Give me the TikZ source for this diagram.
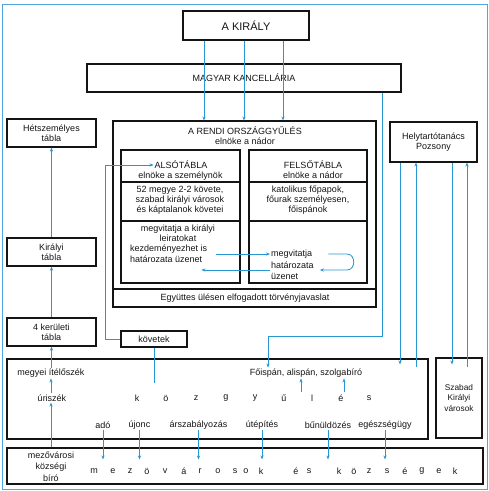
\documentclass[tikz,border=0pt]{standalone}
\usepackage{fontspec}
\setmainfont{Liberation Sans}
\usetikzlibrary{arrows.meta,calc}
\definecolor{lblue}{RGB}{40,150,210}
\definecolor{frameblue}{RGB}{80,165,220}
\definecolor{ink}{RGB}{20,20,20}
\begin{document}
\begin{tikzpicture}[x=1pt,y=-1pt,
  box/.style={draw=ink, line width=1.1pt, rectangle, inner sep=0pt, align=center, font=\fontsize{9}{10}\selectfont, text=ink},
  txt/.style={inner sep=1pt, align=center, font=\fontsize{9}{10}\selectfont, text=ink},
  arr/.style={draw=lblue, line width=0.8pt, -{Stealth[length=4pt,width=3.2pt]}},
  bline/.style={draw=lblue, line width=0.8pt},
  sep/.style={draw=ink, line width=1.1pt}]
\useasboundingbox (0,0) rectangle (489,491);
\draw[frameblue, line width=0.8pt] (2,4) rectangle (487,489);

% boxes
\node[box, minimum width=126pt, minimum height=29pt, font=\fontsize{11}{12}\selectfont] (kiraly) at (246,25.5) {A KIRÁLY};
\node[box, minimum width=314pt, minimum height=28pt] (kanc) at (244,78) {MAGYAR KANCELLÁRIA};
\node[box, minimum width=263pt, minimum height=186pt] (rendi) at (244.5,214) {};
\node[box, minimum width=119pt, minimum height=133pt] (also) at (180.5,216.5) {};
\node[box, minimum width=118pt, minimum height=133pt] (felso) at (308,216.5) {};
\node[box, minimum width=89pt, minimum height=28pt] (het) at (51.5,133) {Hétszemélyes\\tábla};
\node[box, minimum width=89pt, minimum height=28pt] (kirt) at (51.5,252) {Királyi\\tábla};
\node[box, minimum width=89pt, minimum height=28pt] (ker) at (51.5,332) {4 kerületi\\tábla};
\node[box, minimum width=66pt, minimum height=16pt] (kovetek) at (154,339) {követek};
\node[box, minimum width=87pt, minimum height=40pt] (helyt) at (433.5,142) {Helytartótanács\\Pozsony};
\node[box, minimum width=421pt, minimum height=80pt] (kozgy) at (217.5,399) {};
\node[box, minimum width=46pt, minimum height=80pt, font=\fontsize{8.3}{10.5}\selectfont] (szkv) at (459,398) {Szabad\\Királyi\\városok};
\node[box, minimum width=476pt, minimum height=36pt] (mezo) at (245,466) {};

% separators
\draw[sep] (rendi.west |- 0,289) -- (rendi.east |- 0,289);
\draw[sep] (also.west |- 0,182) -- (also.east |- 0,182);
\draw[sep] (also.west |- 0,221) -- (also.east |- 0,221);
\draw[sep] (felso.west |- 0,182) -- (felso.east |- 0,182);
\draw[sep] (felso.west |- 0,221) -- (felso.east |- 0,221);

% texts in Rendi
\node[txt] (rtitle) at (245,135.5) {A RENDI ORSZÁGGYŰLÉS\\elnöke a nádor};
\node[txt] (egyutt) at (245,298) {Együttes ülésen elfogadott törvényjavaslat};
\node[txt] (alsT) at (181,165) {ALSÓTÁBLA};
\node[txt] (alsE) at (180.5,176) {elnöke a személynök};
\node[txt] (amemb) at (180,200.5) {52 megye 2-2 követe,\\szabad királyi városok\\és káptalanok követei};
\node[txt] (amegv) at (178,233.5) {megvitatja a királyi\\leiratokat};
\node[txt, anchor=west] (kezd) at (129,249) {kezdeményezhet is};
\node[txt, anchor=west] (ahat) at (129,259) {határozata üzenet};
\node[txt] (ftitle) at (313,170) {FELSŐTÁBLA\\elnöke a nádor};
\node[txt] (fmemb) at (308,200.5) {katolikus főpapok,\\főurak személyesen,\\főispánok};
\node[txt, anchor=west] (megv) at (270,254) {megvitatja};
\node[txt, anchor=west] (fhat) at (270,265) {határozata};
\node[txt, anchor=west] (fuz) at (270,276) {üzenet};

% county texts
\node[txt] (itelo) at (51,373) {megyei ítélőszék};
\node[txt] (uri) at (52,398) {úriszék};
\node[txt] (fois) at (306,373) {Főispán, alispán, szolgabíró};
\foreach \l/\x [count=\i] in {k/137,ö/166,z/196,g/226,y/255,ű/284,l/312,é/341,s/369}
  \node[txt] (kg\i) at (\x,398) {\l};
\node[txt] (ado) at (103,425) {adó};
\node[txt] (ujonc) at (139.5,425) {újonc};
\node[txt] (arsz) at (198.5,425) {árszabályozás};
\node[txt] (utep) at (262,425) {útépítés};
\node[txt] (bun) at (328,425) {bűnüldözés};
\node[txt] (egesz) at (385,425) {egészségügy};
\node[txt, font=\fontsize{9}{11.3}\selectfont] (mbiro) at (51,466.5) {mezővárosi\\községi\\bíró};
\foreach \l/\x [count=\i] in {m/94,e/113,z/130,ö/147,v/165,á/184,r/200,o/218,s/235,o/246,k/261,é/296,s/309,k/339,ö/354,z/369,s/387,é/405,g/422,e/439,k/455}
  \node[txt] (mv\i) at (\x,471) {\l};

% connectors
\foreach \x in {204,244,283}
  \draw[arr] (kiraly.south -| \x,0) -- (rendi.north -| \x,0);
\draw[arr] (kanc.south -| 382,0) -- (382,336) -| (fois.north -| 268,0);
\draw[arr] (kovetek.west) -- (105,339) |- (alsT.west);
\draw[bline] (kovetek.south) -- (kovetek.south |- 0,383);
\draw[arr] (kirt.north) -- (het.south);
\draw[arr] (ker.north) -- (kirt.south);
\draw[arr] (itelo.north -| ker.south) -- (ker.south);
\draw[arr] (uri.north -| itelo.south) -- (itelo.south);
\draw[arr] (mezo.north -| itelo.south) -- (uri.south -| itelo.south);
\draw[arr] ($(kezd.east |- megv.west)+(8,0)$) -- (megv.west);
\draw[arr] (megv.west |- 0,270) -- ($(ahat.east |- 0,270)-(2,0)$);
\draw[arr] ($(megv.east)+(15,0)$) -- (347,254) .. controls (356,254) and (356,270) .. (347,270) -- ($(fhat.east |- 0,270)+(5,0)$);
\foreach \x in {301,344}
  \draw[arr] (\x,392) -- (fois.south -| \x,0);
\foreach \n in {ado,ujonc,arsz,utep,bun,egesz}
  \draw[arr] (\n.south) -- ($(\n.south |- mezo.north)+(0,12)$);
\draw[arr] (helyt.south -| 400,0) -- ($(kozgy.north -| 400,0)+(0,6)$);
\draw[arr] ($(kozgy.north -| 416,0)+(0,9)$) -- (helyt.south -| 416,0);
\draw[arr] (helyt.south -| 452,0) -- ($(szkv.north -| 452,0)+(0,7)$);
\draw[arr] ($(szkv.north -| 467,0)+(0,10)$) -- (helyt.south -| 467,0);
\end{tikzpicture}
\end{document}
